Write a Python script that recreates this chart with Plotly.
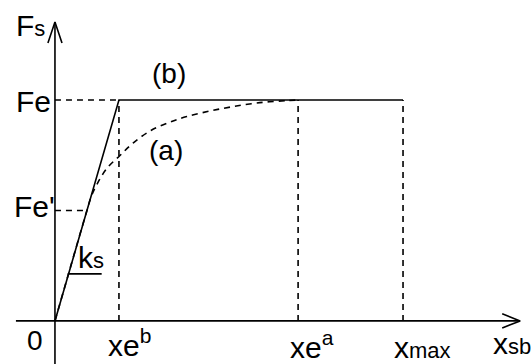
import plotly.graph_objects as go

# characteristic points (normalised units: x_e^b = 1, F_e = 1)
x_eb = 1.0
x_ea = 3.80
x_max = 5.44
F_e = 1.0
F_e1 = 0.50

# curve (a)
curve_x = [0.0, 0.50, 0.57, 0.66, 0.81, 1.02, 1.22, 1.50, 1.80, 2.06, 2.42, 2.78, 3.20, 3.63, 3.80]
curve_y = [0.0, 0.50, 0.565, 0.62, 0.69, 0.75, 0.805, 0.862, 0.90, 0.925, 0.95, 0.97, 0.988, 0.997, 1.0]

BLACK = "#000000"
LW = 1.6
DASH = "6px,5px"
FONT = "Liberation Sans, Arial, sans-serif"

# axes extents
x_lo, x_hi = -0.61, 7.27
y_lo, y_hi = -0.195, 1.353

fig = go.Figure()


def seg(xs, ys, dash="solid", shape="linear"):
    fig.add_trace(go.Scatter(x=xs, y=ys, mode="lines", hoverinfo="skip",
                             line=dict(color=BLACK, width=LW, dash=dash, shape=shape)))


# axes with open arrow heads
seg([x_lo, x_hi], [0, 0])
seg([0, 0], [y_lo, y_hi])
seg([x_hi - 0.28, x_hi, x_hi - 0.28], [0.032, 0, -0.032])
seg([-0.11, 0, 0.11], [y_hi - 0.095, y_hi, y_hi - 0.095])

# (b): elastic-perfectly plastic
seg([0, x_eb, x_max], [0, F_e, F_e])

# guide lines
seg([0, x_eb], [F_e, F_e], DASH)
seg([0, F_e1], [F_e1, F_e1], DASH)
seg([x_eb, x_eb], [0, F_e], DASH)
seg([x_ea, x_ea], [0, F_e], DASH)
seg([x_max, x_max], [0, F_e], DASH)

# (a): smooth curve
seg(curve_x, curve_y, DASH, shape="spline")

# k_s underline
seg([0.2, 0.73], [0.213, 0.213])


def lbl(text, x, y, size=30):
    fig.add_annotation(x=x, y=y, text=text, showarrow=False, xanchor="center",
                       yanchor="middle", font=dict(family=FONT, size=size, color=BLACK))


sub = "<span style='font-size:22px'>{}</span>"
lbl("F" + sub.format("s"), -0.39, 1.335)
lbl("Fe", -0.34, F_e - 0.005)
lbl("Fe'", -0.32, F_e1 + 0.02)
lbl("0", -0.31, -0.09, size=28)
lbl("k" + sub.format("s"), 0.57, 0.285)
lbl("xe<sup>b</sup>", x_eb + 0.17, -0.1)
lbl("xe<sup>a</sup>", x_ea + 0.22, -0.11)
lbl("x" + sub.format("max"), x_max + 0.3, -0.12)
lbl("x" + sub.format("sb"), 7.14, -0.1)
lbl("(b)", 1.78, 1.12, size=28)
lbl("(a)", 1.73, 0.77, size=28)

fig.update_layout(
    width=531, height=364,
    margin=dict(l=0, r=0, t=0, b=0),
    paper_bgcolor="white", plot_bgcolor="white",
    showlegend=False,
    xaxis=dict(range=[-0.859, 7.44], visible=False, fixedrange=True),
    yaxis=dict(range=[y_lo, 1.4525], visible=False, fixedrange=True),
)

fig.write_html("out.html", config={"displayModeBar": False},
               post_script="document.body.style.margin='0';")
